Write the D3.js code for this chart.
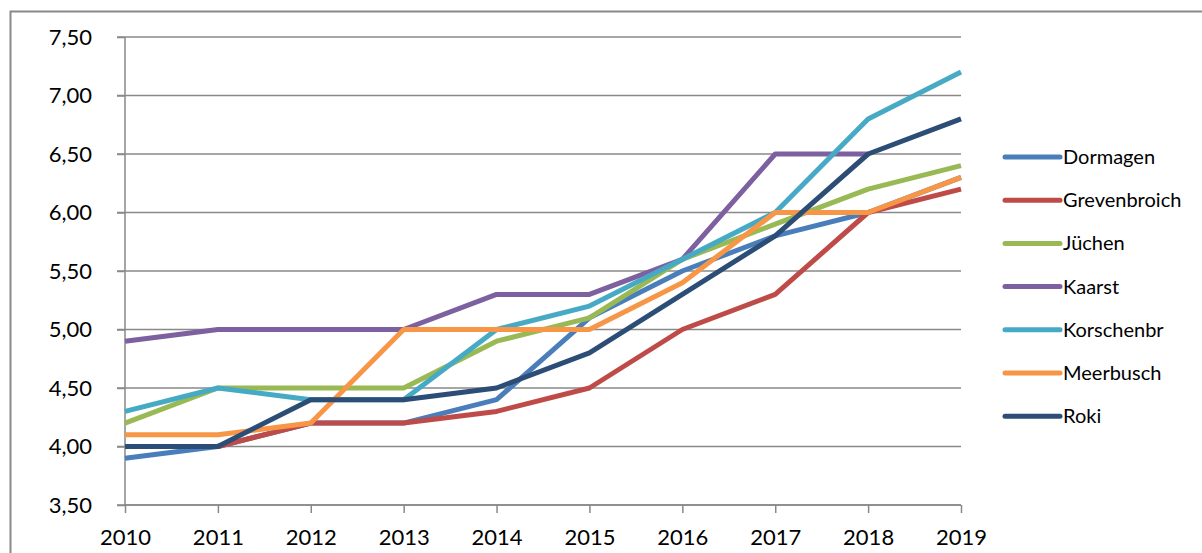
<!DOCTYPE html>
<html>
<head>
<meta charset="utf-8">
<script src="https://cdn.jsdelivr.net/npm/d3@7"></script>
<style>
body{margin:0;background:#fff;}
svg{display:block;font-family:Lato,"Noto Sans",sans-serif;}
</style>
</head>
<body>
<script>
// years and values
var years=[2010,2011,2012,2013,2014,2015,2016,2017,2018,2019];
var dormagen=[3.9,4.0,4.2,4.2,4.4,5.1,5.5,5.8,6.0,6.3];
var grevenbroich=[4.0,4.0,4.2,4.2,4.3,4.5,5.0,5.3,6.0,6.2];
var juechen=[4.2,4.5,4.5,4.5,4.9,5.1,5.6,5.9,6.2,6.4];
var kaarst=[4.9,5.0,5.0,5.0,5.3,5.3,5.6,6.5,6.5,null];
var korschenbr=[4.3,4.5,4.4,4.4,5.0,5.2,5.6,6.0,6.8,7.2];
var meerbusch=[4.1,4.1,4.2,5.0,5.0,5.0,5.4,6.0,6.0,6.3];
var roki=[4.0,4.0,4.4,4.4,4.5,4.8,5.3,5.8,6.5,6.8];
var yTicks=[3.5,4.0,4.5,5.0,5.5,6.0,6.5,7.0,7.5];

var series=[
  {name:"Dormagen",values:dormagen,color:"#4a7ebb"},
  {name:"Grevenbroich",values:grevenbroich,color:"#be4b48"},
  {name:"Jüchen",values:juechen,color:"#98b954"},
  {name:"Kaarst",values:kaarst,color:"#7d60a0"},
  {name:"Korschenbr",values:korschenbr,color:"#46aac5"},
  {name:"Meerbusch",values:meerbusch,color:"#f79646"},
  {name:"Roki",values:roki,color:"#2c4d75"}
];

var W=1202,H=553;
var svg=d3.select('body').append('svg')
    .attr('width',W)
    .attr('height',H);

// outer chart border
svg.append("rect").attr("x",10.5).attr("y",11.5)
    .attr("width",1210).attr("height",600)
    .attr("fill","none").attr("stroke","#898989").attr("stroke-width",2);

var x=d3.scaleLinear().domain([2010,2019]).range([125,961]);
var y=d3.scaleLinear().domain([3.5,7.5]).range([505,37]);

// gridlines
svg.append("g").selectAll("line").data(yTicks).enter().append("line")
    .attr("x1",117).attr("x2",961)
    .attr("y1",function(d){return y(d)}).attr("y2",function(d){return y(d)})
    .attr("stroke","#898989").attr("stroke-width",1.5);

// y axis
var yAxis=svg.append("g").attr("transform","translate(125,0)")
    .call(d3.axisLeft(y).tickValues(yTicks).tickSize(8).tickPadding(25)
      .tickFormat(function(d){return d3.format(".2f")(d).replace(".",",")}));
yAxis.select(".domain").attr("stroke","#898989").attr("stroke-width",1.5).attr("d","M0,37V505");
yAxis.selectAll(".tick line").attr("stroke","#898989").attr("stroke-width",1.5);
yAxis.selectAll("text").attr("font-size",22).attr("fill","#000").attr("font-family","Lato, Noto Sans, sans-serif");

// x axis
var xAxis=svg.append("g").attr("transform","translate(0,505)")
    .call(d3.axisBottom(x).tickValues(years).tickSize(8).tickPadding(16)
      .tickFormat(d3.format("d")));
xAxis.select(".domain").attr("stroke","#898989").attr("stroke-width",1.5).attr("d","M125,0H961");
xAxis.selectAll(".tick line").attr("stroke","#898989").attr("stroke-width",1.5);
xAxis.selectAll("text").attr("font-size",22).attr("fill","#000").attr("font-family","Lato, Noto Sans, sans-serif");

// lines
var line=d3.line()
    .defined(function(d){return d!=null})
    .x(function(d,i){return x(years[i])})
    .y(function(d){return y(d)});

svg.append("g").selectAll("path").data(series).enter().append("path")
    .attr("d",function(s){return line(s.values)})
    .attr("fill","none")
    .attr("stroke",function(s){return s.color})
    .attr("stroke-width",5)
    .attr("stroke-linejoin","round");

// legend
var lg=svg.append("g").selectAll("g").data(series).enter().append("g")
    .attr("transform",function(d,i){return "translate(1003,"+(157+i*43.2)+")"});
lg.append("line").attr("x1",2).attr("x2",57).attr("y1",0).attr("y2",0)
    .attr("stroke",function(d){return d.color}).attr("stroke-width",5)
    .attr("stroke-linecap","round");
lg.append("text").attr("x",60).attr("y",7)
    .attr("font-size",20).attr("fill","#000")
    .text(function(d){return d.name});
</script>
</body>
</html>
